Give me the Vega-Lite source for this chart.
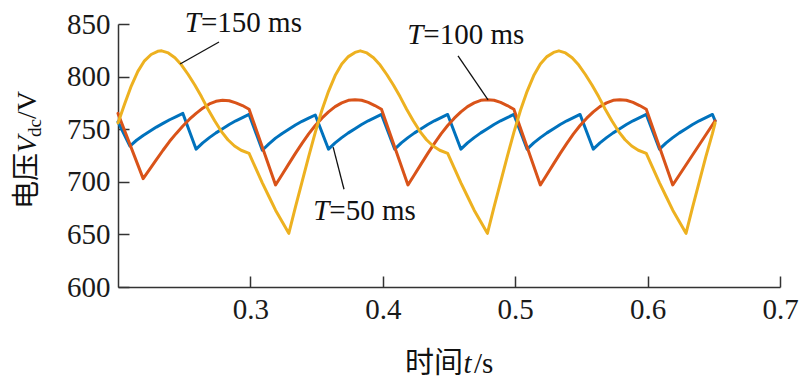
{
  "$schema": "https://vega.github.io/schema/vega-lite/v6.json",
  "width": 662,
  "height": 263,
  "autosize": {"type": "none"},
  "padding": {"left": 118, "top": 24, "right": 20, "bottom": 95},
  "background": "white",
  "config": {"view": {"stroke": null}, "font": "Liberation Serif"},
  "datasets": {
    "curves": [
      {"T": "50", "t": 0.200, "v": 757}, {"T": "50", "t": 0.209, "v": 734},
      {"T": "50", "t": 0.214, "v": 739.5}, {"T": "50", "t": 0.219, "v": 744}, {"T": "50", "t": 0.224, "v": 748}, {"T": "50", "t": 0.229, "v": 752}, {"T": "50", "t": 0.234, "v": 755.5}, {"T": "50", "t": 0.239, "v": 759}, {"T": "50", "t": 0.244, "v": 762}, {"T": "50", "t": 0.249, "v": 765},
      {"T": "50", "t": 0.259, "v": 731},
      {"T": "50", "t": 0.264, "v": 737}, {"T": "50", "t": 0.269, "v": 742}, {"T": "50", "t": 0.274, "v": 746.5}, {"T": "50", "t": 0.279, "v": 750.5}, {"T": "50", "t": 0.284, "v": 754.5}, {"T": "50", "t": 0.289, "v": 758}, {"T": "50", "t": 0.294, "v": 761}, {"T": "50", "t": 0.299, "v": 764},
      {"T": "50", "t": 0.309, "v": 730},
      {"T": "50", "t": 0.314, "v": 736}, {"T": "50", "t": 0.319, "v": 741.5}, {"T": "50", "t": 0.324, "v": 746}, {"T": "50", "t": 0.329, "v": 750}, {"T": "50", "t": 0.334, "v": 754}, {"T": "50", "t": 0.339, "v": 757.5}, {"T": "50", "t": 0.344, "v": 760.5}, {"T": "50", "t": 0.349, "v": 763.5},
      {"T": "50", "t": 0.359, "v": 731},
      {"T": "50", "t": 0.364, "v": 737}, {"T": "50", "t": 0.369, "v": 742}, {"T": "50", "t": 0.374, "v": 746.5}, {"T": "50", "t": 0.379, "v": 750.5}, {"T": "50", "t": 0.384, "v": 754.5}, {"T": "50", "t": 0.389, "v": 758}, {"T": "50", "t": 0.394, "v": 761}, {"T": "50", "t": 0.399, "v": 764},
      {"T": "50", "t": 0.409, "v": 731},
      {"T": "50", "t": 0.414, "v": 737}, {"T": "50", "t": 0.419, "v": 742}, {"T": "50", "t": 0.424, "v": 746.5}, {"T": "50", "t": 0.429, "v": 750.5}, {"T": "50", "t": 0.434, "v": 754.5}, {"T": "50", "t": 0.439, "v": 758}, {"T": "50", "t": 0.444, "v": 761}, {"T": "50", "t": 0.449, "v": 764},
      {"T": "50", "t": 0.459, "v": 731},
      {"T": "50", "t": 0.464, "v": 737}, {"T": "50", "t": 0.469, "v": 742}, {"T": "50", "t": 0.474, "v": 746.5}, {"T": "50", "t": 0.479, "v": 750.5}, {"T": "50", "t": 0.484, "v": 754.5}, {"T": "50", "t": 0.489, "v": 758}, {"T": "50", "t": 0.494, "v": 761}, {"T": "50", "t": 0.499, "v": 764},
      {"T": "50", "t": 0.509, "v": 731},
      {"T": "50", "t": 0.514, "v": 737}, {"T": "50", "t": 0.519, "v": 742}, {"T": "50", "t": 0.524, "v": 746.5}, {"T": "50", "t": 0.529, "v": 750.5}, {"T": "50", "t": 0.534, "v": 754.5}, {"T": "50", "t": 0.539, "v": 758}, {"T": "50", "t": 0.544, "v": 761}, {"T": "50", "t": 0.549, "v": 764},
      {"T": "50", "t": 0.559, "v": 731},
      {"T": "50", "t": 0.564, "v": 737}, {"T": "50", "t": 0.569, "v": 742}, {"T": "50", "t": 0.574, "v": 746.5}, {"T": "50", "t": 0.579, "v": 750.5}, {"T": "50", "t": 0.584, "v": 754.5}, {"T": "50", "t": 0.589, "v": 758}, {"T": "50", "t": 0.594, "v": 761}, {"T": "50", "t": 0.599, "v": 764},
      {"T": "50", "t": 0.609, "v": 731},
      {"T": "50", "t": 0.614, "v": 737}, {"T": "50", "t": 0.619, "v": 742}, {"T": "50", "t": 0.624, "v": 746.5}, {"T": "50", "t": 0.629, "v": 750.5}, {"T": "50", "t": 0.634, "v": 754.5}, {"T": "50", "t": 0.639, "v": 758}, {"T": "50", "t": 0.644, "v": 761}, {"T": "50", "t": 0.649, "v": 764},
      {"T": "50", "t": 0.651, "v": 758},

      {"T": "100", "t": 0.200, "v": 765}, {"T": "100", "t": 0.219, "v": 703},
      {"T": "100", "t": 0.224, "v": 712}, {"T": "100", "t": 0.229, "v": 721}, {"T": "100", "t": 0.234, "v": 730}, {"T": "100", "t": 0.239, "v": 738.5}, {"T": "100", "t": 0.244, "v": 746}, {"T": "100", "t": 0.249, "v": 753}, {"T": "100", "t": 0.254, "v": 759.5}, {"T": "100", "t": 0.259, "v": 765}, {"T": "100", "t": 0.264, "v": 770}, {"T": "100", "t": 0.269, "v": 774}, {"T": "100", "t": 0.274, "v": 776.5}, {"T": "100", "t": 0.279, "v": 777.5}, {"T": "100", "t": 0.284, "v": 777}, {"T": "100", "t": 0.289, "v": 775}, {"T": "100", "t": 0.294, "v": 772.5}, {"T": "100", "t": 0.299, "v": 769},
      {"T": "100", "t": 0.319, "v": 697},
      {"T": "100", "t": 0.324, "v": 707}, {"T": "100", "t": 0.329, "v": 717}, {"T": "100", "t": 0.334, "v": 727}, {"T": "100", "t": 0.339, "v": 736.5}, {"T": "100", "t": 0.344, "v": 745.5}, {"T": "100", "t": 0.349, "v": 753.5}, {"T": "100", "t": 0.354, "v": 760.5}, {"T": "100", "t": 0.359, "v": 766.5}, {"T": "100", "t": 0.364, "v": 771.5}, {"T": "100", "t": 0.369, "v": 775}, {"T": "100", "t": 0.374, "v": 777.5}, {"T": "100", "t": 0.379, "v": 778}, {"T": "100", "t": 0.384, "v": 777.5}, {"T": "100", "t": 0.389, "v": 775.5}, {"T": "100", "t": 0.394, "v": 772.5}, {"T": "100", "t": 0.399, "v": 769},
      {"T": "100", "t": 0.419, "v": 697},
      {"T": "100", "t": 0.424, "v": 707}, {"T": "100", "t": 0.429, "v": 717}, {"T": "100", "t": 0.434, "v": 727}, {"T": "100", "t": 0.439, "v": 736.5}, {"T": "100", "t": 0.444, "v": 745.5}, {"T": "100", "t": 0.449, "v": 753.5}, {"T": "100", "t": 0.454, "v": 760.5}, {"T": "100", "t": 0.459, "v": 766.5}, {"T": "100", "t": 0.464, "v": 771.5}, {"T": "100", "t": 0.469, "v": 775}, {"T": "100", "t": 0.474, "v": 777.5}, {"T": "100", "t": 0.479, "v": 778}, {"T": "100", "t": 0.484, "v": 777.5}, {"T": "100", "t": 0.489, "v": 775.5}, {"T": "100", "t": 0.494, "v": 772.5}, {"T": "100", "t": 0.499, "v": 769},
      {"T": "100", "t": 0.519, "v": 697},
      {"T": "100", "t": 0.524, "v": 707}, {"T": "100", "t": 0.529, "v": 717}, {"T": "100", "t": 0.534, "v": 727}, {"T": "100", "t": 0.539, "v": 736.5}, {"T": "100", "t": 0.544, "v": 745.5}, {"T": "100", "t": 0.549, "v": 753.5}, {"T": "100", "t": 0.554, "v": 760.5}, {"T": "100", "t": 0.559, "v": 766.5}, {"T": "100", "t": 0.564, "v": 771.5}, {"T": "100", "t": 0.569, "v": 775}, {"T": "100", "t": 0.574, "v": 777.5}, {"T": "100", "t": 0.579, "v": 778}, {"T": "100", "t": 0.584, "v": 777.5}, {"T": "100", "t": 0.589, "v": 775.5}, {"T": "100", "t": 0.594, "v": 772.5}, {"T": "100", "t": 0.599, "v": 769},
      {"T": "100", "t": 0.619, "v": 697},
      {"T": "100", "t": 0.651, "v": 758},

      {"T": "150", "t": 0.200, "v": 756}, {"T": "150", "t": 0.205, "v": 774}, {"T": "150", "t": 0.210, "v": 791}, {"T": "150", "t": 0.215, "v": 805}, {"T": "150", "t": 0.220, "v": 815}, {"T": "150", "t": 0.225, "v": 821}, {"T": "150", "t": 0.230, "v": 824}, {"T": "150", "t": 0.233, "v": 824.5}, {"T": "150", "t": 0.238, "v": 822.5}, {"T": "150", "t": 0.243, "v": 818}, {"T": "150", "t": 0.248, "v": 811}, {"T": "150", "t": 0.253, "v": 802}, {"T": "150", "t": 0.258, "v": 792}, {"T": "150", "t": 0.263, "v": 781}, {"T": "150", "t": 0.268, "v": 769}, {"T": "150", "t": 0.273, "v": 758}, {"T": "150", "t": 0.278, "v": 748}, {"T": "150", "t": 0.283, "v": 740}, {"T": "150", "t": 0.288, "v": 734}, {"T": "150", "t": 0.293, "v": 730}, {"T": "150", "t": 0.299, "v": 727}, {"T": "150", "t": 0.304, "v": 713}, {"T": "150", "t": 0.309, "v": 699}, {"T": "150", "t": 0.314, "v": 686}, {"T": "150", "t": 0.319, "v": 673}, {"T": "150", "t": 0.324, "v": 662}, {"T": "150", "t": 0.329, "v": 651},
      {"T": "150", "t": 0.334, "v": 676}, {"T": "150", "t": 0.339, "v": 700}, {"T": "150", "t": 0.344, "v": 724}, {"T": "150", "t": 0.349, "v": 747}, {"T": "150", "t": 0.354, "v": 768}, {"T": "150", "t": 0.359, "v": 786}, {"T": "150", "t": 0.364, "v": 801}, {"T": "150", "t": 0.369, "v": 812}, {"T": "150", "t": 0.374, "v": 819}, {"T": "150", "t": 0.379, "v": 823}, {"T": "150", "t": 0.383, "v": 824.5}, {"T": "150", "t": 0.388, "v": 822.5}, {"T": "150", "t": 0.393, "v": 818}, {"T": "150", "t": 0.398, "v": 811}, {"T": "150", "t": 0.403, "v": 802}, {"T": "150", "t": 0.408, "v": 792}, {"T": "150", "t": 0.413, "v": 781}, {"T": "150", "t": 0.418, "v": 769}, {"T": "150", "t": 0.423, "v": 758}, {"T": "150", "t": 0.428, "v": 748}, {"T": "150", "t": 0.433, "v": 740}, {"T": "150", "t": 0.438, "v": 734}, {"T": "150", "t": 0.443, "v": 730}, {"T": "150", "t": 0.449, "v": 727}, {"T": "150", "t": 0.454, "v": 713}, {"T": "150", "t": 0.459, "v": 699}, {"T": "150", "t": 0.464, "v": 686}, {"T": "150", "t": 0.469, "v": 673}, {"T": "150", "t": 0.474, "v": 662}, {"T": "150", "t": 0.479, "v": 651},
      {"T": "150", "t": 0.484, "v": 676}, {"T": "150", "t": 0.489, "v": 700}, {"T": "150", "t": 0.494, "v": 724}, {"T": "150", "t": 0.499, "v": 747}, {"T": "150", "t": 0.504, "v": 768}, {"T": "150", "t": 0.509, "v": 786}, {"T": "150", "t": 0.514, "v": 801}, {"T": "150", "t": 0.519, "v": 812}, {"T": "150", "t": 0.524, "v": 819}, {"T": "150", "t": 0.529, "v": 823}, {"T": "150", "t": 0.533, "v": 824.5}, {"T": "150", "t": 0.538, "v": 822.5}, {"T": "150", "t": 0.543, "v": 818}, {"T": "150", "t": 0.548, "v": 811}, {"T": "150", "t": 0.553, "v": 802}, {"T": "150", "t": 0.558, "v": 792}, {"T": "150", "t": 0.563, "v": 781}, {"T": "150", "t": 0.568, "v": 769}, {"T": "150", "t": 0.573, "v": 758}, {"T": "150", "t": 0.578, "v": 748}, {"T": "150", "t": 0.583, "v": 740}, {"T": "150", "t": 0.588, "v": 734}, {"T": "150", "t": 0.593, "v": 730}, {"T": "150", "t": 0.599, "v": 727}, {"T": "150", "t": 0.604, "v": 713}, {"T": "150", "t": 0.609, "v": 699}, {"T": "150", "t": 0.614, "v": 686}, {"T": "150", "t": 0.619, "v": 673}, {"T": "150", "t": 0.624, "v": 662}, {"T": "150", "t": 0.629, "v": 651},
      {"T": "150", "t": 0.634, "v": 676}, {"T": "150", "t": 0.639, "v": 700}, {"T": "150", "t": 0.644, "v": 724}, {"T": "150", "t": 0.649, "v": 746}, {"T": "150", "t": 0.651, "v": 756}
    ],
    "labels": [
      {"pre": "T", "post": "=150 ms", "t": 0.2627, "v": 842.4},
      {"pre": "T", "post": "=100 ms", "t": 0.4306, "v": 830.7},
      {"pre": "T", "post": "=50 ms", "t": 0.3596, "v": 663.7}
    ],
    "leaders": [
      {"t": 0.2763, "v": 832.9, "t2": 0.2469, "v2": 812.0},
      {"t": 0.4568, "v": 819.6, "t2": 0.4795, "v2": 777.8},
      {"t": 0.3625, "v": 733.0, "t2": 0.3707, "v2": 692.9}
    ]
  },
  "layer": [
    {
      "data": {"name": "curves"},
      "transform": [{"filter": "datum.T == '50'"}],
      "mark": {"type": "line", "strokeWidth": 3, "strokeJoin": "round", "strokeCap": "round"},
      "encoding": {
        "x": {"field": "t", "type": "quantitative", "scale": {"domain": [0.2, 0.7], "nice": false},
          "axis": {"title": null, "values": [0.3, 0.4, 0.5, 0.6, 0.7], "format": ".1f", "labelFlush": false, "grid": false,
            "tickSize": -11, "labelPadding": 19, "domainColor": "#333", "tickColor": "#333", "domainWidth": 1.5, "tickWidth": 1.5,
            "labelFont": "Liberation Serif", "labelFontSize": 29, "labelColor": "#1a1a1a"}},
        "y": {"field": "v", "type": "quantitative", "scale": {"domain": [600, 850], "nice": false},
          "axis": {"title": null, "values": [600, 650, 700, 750, 800, 850], "grid": false,
            "tickSize": -11, "labelPadding": 19, "domainColor": "#333", "tickColor": "#333", "domainWidth": 1.5, "tickWidth": 1.5,
            "labelFont": "Liberation Serif", "labelFontSize": 29, "labelColor": "#1a1a1a"}},
        "color": {"field": "T", "type": "nominal", "scale": {"domain": ["50", "100", "150"], "range": ["#0072BD", "#D95319", "#EDB120"]}, "legend": null}
      }
    },
    {
      "data": {"name": "curves"},
      "transform": [{"filter": "datum.T == '100'"}],
      "mark": {"type": "line", "strokeWidth": 3, "strokeJoin": "round", "strokeCap": "round"},
      "encoding": {
        "x": {"field": "t", "type": "quantitative"},
        "y": {"field": "v", "type": "quantitative"},
        "color": {"field": "T", "type": "nominal", "legend": null}
      }
    },
    {
      "data": {"name": "curves"},
      "transform": [{"filter": "datum.T == '150'"}],
      "mark": {"type": "line", "strokeWidth": 3, "strokeJoin": "round", "strokeCap": "round"},
      "encoding": {
        "x": {"field": "t", "type": "quantitative"},
        "y": {"field": "v", "type": "quantitative"},
        "color": {"field": "T", "type": "nominal", "legend": null}
      }
    },
    {
      "data": {"name": "leaders"},
      "mark": {"type": "rule", "color": "#111", "strokeWidth": 1.3},
      "encoding": {
        "x": {"field": "t", "type": "quantitative"},
        "y": {"field": "v", "type": "quantitative"},
        "x2": {"field": "t2"},
        "y2": {"field": "v2"}
      }
    },
    {
      "data": {"name": "labels"},
      "mark": {"type": "text", "align": "right", "baseline": "alphabetic", "font": "Liberation Serif", "fontStyle": "italic", "fontSize": 29, "color": "#111"},
      "encoding": {
        "x": {"field": "t", "type": "quantitative"},
        "y": {"field": "v", "type": "quantitative"},
        "text": {"field": "pre"}
      }
    },
    {
      "data": {"name": "labels"},
      "mark": {"type": "text", "align": "left", "baseline": "alphabetic", "font": "Liberation Serif", "fontSize": 29, "color": "#111"},
      "encoding": {
        "x": {"field": "t", "type": "quantitative"},
        "y": {"field": "v", "type": "quantitative"},
        "text": {"field": "post"}
      }
    },
    {
      "data": {"values": [{"txt": "时间", "t": 0.4606, "v": 518.3}]},
      "mark": {"type": "text", "align": "right", "baseline": "alphabetic", "font": "Noto Sans CJK SC", "fontSize": 29, "color": "#111"},
      "encoding": {
        "x": {"field": "t", "type": "quantitative"},
        "y": {"field": "v", "type": "quantitative"},
        "text": {"field": "txt"}
      }
    },
    {
      "data": {"values": [{"txt": "t", "t": 0.4610, "v": 518.3}]},
      "mark": {"type": "text", "align": "left", "baseline": "alphabetic", "font": "Liberation Serif", "fontStyle": "italic", "fontSize": 29, "color": "#111"},
      "encoding": {
        "x": {"field": "t", "type": "quantitative"},
        "y": {"field": "v", "type": "quantitative"},
        "text": {"field": "txt"}
      }
    },
    {
      "data": {"values": [{"txt": "/s", "t": 0.4689, "v": 518.3}]},
      "mark": {"type": "text", "align": "left", "baseline": "alphabetic", "font": "Liberation Serif", "fontSize": 29, "color": "#111"},
      "encoding": {
        "x": {"field": "t", "type": "quantitative"},
        "y": {"field": "v", "type": "quantitative"},
        "text": {"field": "txt"}
      }
    },
    {
      "data": {"values": [{"txt": "电压", "t": 0.1381, "v": 727.4}]},
      "mark": {"type": "text", "angle": 270, "align": "right", "baseline": "alphabetic", "font": "Noto Sans CJK SC", "fontSize": 28, "color": "#111"},
      "encoding": {
        "x": {"field": "t", "type": "quantitative"},
        "y": {"field": "v", "type": "quantitative"},
        "text": {"field": "txt"}
      }
    },
    {
      "data": {"values": [{"txt": "V", "t": 0.1381, "v": 727.4}]},
      "mark": {"type": "text", "angle": 270, "align": "left", "baseline": "alphabetic", "font": "Liberation Serif", "fontStyle": "italic", "fontSize": 28, "color": "#111"},
      "encoding": {
        "x": {"field": "t", "type": "quantitative"},
        "y": {"field": "v", "type": "quantitative"},
        "text": {"field": "txt"}
      }
    },
    {
      "data": {"values": [{"txt": "dc", "t": 0.1415, "v": 742.6}]},
      "mark": {"type": "text", "angle": 270, "align": "left", "baseline": "alphabetic", "font": "Liberation Serif", "fontSize": 19, "color": "#111"},
      "encoding": {
        "x": {"field": "t", "type": "quantitative"},
        "y": {"field": "v", "type": "quantitative"},
        "text": {"field": "txt"}
      }
    },
    {
      "data": {"values": [{"txt": "/V", "t": 0.1381, "v": 759.7}]},
      "mark": {"type": "text", "angle": 270, "align": "left", "baseline": "alphabetic", "font": "Liberation Serif", "fontSize": 28, "color": "#111"},
      "encoding": {
        "x": {"field": "t", "type": "quantitative"},
        "y": {"field": "v", "type": "quantitative"},
        "text": {"field": "txt"}
      }
    }
  ]
}
